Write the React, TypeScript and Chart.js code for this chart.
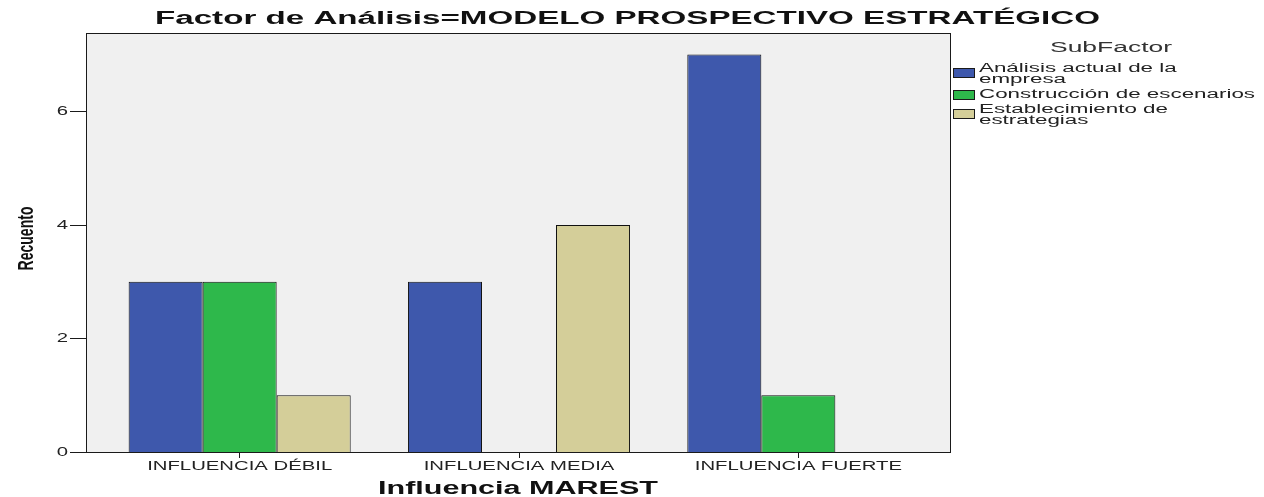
import React, { useEffect, useRef } from "react";
import { Chart, registerables } from "chart.js";

Chart.register(...registerables);

const chartTitle = "Factor de Análisis=MODELO PROSPECTIVO ESTRATÉGICO";
const xAxisTitle = "Influencia MAREST";
const yAxisTitle = "Recuento";
const legendTitle = "SubFactor";
const categories = ["INFLUENCIA DÉBIL", "INFLUENCIA MEDIA", "INFLUENCIA FUERTE"];
const seriesNames = [
  "Análisis actual de la empresa",
  "Construcción de escenarios",
  "Establecimiento de estrategias",
];
const analisisValues = [3, 3, 7];
const construccionValues = [3, 0, 1];
const establecimientoValues = [1, 4, 0];
const seriesColors = ["#3e58ac", "#2eb84b", "#d4ce99"];
const yTickValues = [0, 2, 4, 6];
const yMax = 7.38;

const FONT = "'Liberation Sans', Arial, sans-serif";
const NARROW = "'Liberation Sans Narrow', 'Liberation Sans', Arial, sans-serif";
// the drawn frame extends beyond the category range on both sides
const FRAME_PAD_LEFT = 14;
const FRAME_PAD_RIGHT = 12;

function drawStretched(
  ctx: CanvasRenderingContext2D,
  text: string,
  x: number,
  y: number,
  font: string,
  color: string,
  sx: number,
  align: "left" | "center" | "right"
) {
  ctx.save();
  ctx.font = font;
  ctx.fillStyle = color;
  ctx.textBaseline = "middle";
  ctx.textAlign = "left";
  const w = ctx.measureText(text).width * sx;
  const left = align === "left" ? x : align === "center" ? x - w / 2 : x - w;
  ctx.translate(left, y);
  ctx.scale(sx, 1);
  ctx.fillText(text, 0, 0);
  ctx.restore();
}

function factorFor(ctx: CanvasRenderingContext2D, text: string, font: string, target: number) {
  ctx.save();
  ctx.font = font;
  const w = ctx.measureText(text).width;
  ctx.restore();
  return target / w;
}

function wrapWords(ctx: CanvasRenderingContext2D, text: string, font: string, sx: number, maxW: number) {
  ctx.save();
  ctx.font = font;
  const words = text.split(" ");
  const lines: string[] = [];
  let cur = "";
  for (const w of words) {
    const t = cur ? cur + " " + w : w;
    if (ctx.measureText(t).width * sx > maxW && cur) {
      lines.push(cur);
      cur = w;
    } else cur = t;
  }
  if (cur) lines.push(cur);
  ctx.restore();
  return lines;
}

const decorPlugin = {
  id: "decor",
  beforeDraw(chart: any) {
    const { ctx, chartArea: a, width, height } = chart;
    ctx.save();
    ctx.fillStyle = "#ffffff";
    ctx.fillRect(0, 0, width, height);
    ctx.fillStyle = "#f0f0f0";
    ctx.fillRect(a.left - FRAME_PAD_LEFT, a.top, a.right - a.left + FRAME_PAD_LEFT + FRAME_PAD_RIGHT, a.bottom - a.top);
    ctx.restore();
  },
  afterDraw(chart: any) {
    const { ctx, chartArea: a } = chart;
    const fl = Math.round(a.left - FRAME_PAD_LEFT);
    const fr = Math.round(a.right + FRAME_PAD_RIGHT);
    // plot frame
    ctx.save();
    ctx.strokeStyle = "#1a1a1a";
    ctx.lineWidth = 1;
    ctx.strokeRect(fl + 0.5, Math.round(a.top) + 0.5, fr - fl, Math.round(a.bottom - a.top));
    ctx.restore();

    // title
    const titleFont = `bold 18px ${FONT}`;
    const tsx = factorFor(ctx, chartTitle, titleFont, 945);
    drawStretched(ctx, chartTitle, 627.5, 19.5, titleFont, "#111111", tsx, "center");

    // x tick labels
    const tickFont = `12px ${FONT}`;
    const ksx = factorFor(ctx, categories[0], tickFont, 185);
    const xs = chart.scales.x;
    categories.forEach((c, i) => {
      drawStretched(ctx, c, xs.getPixelForTick(i), 466.5, tickFont, "#222222", ksx, "center");
    });

    // y tick marks + labels
    const ys = chart.scales.y;
    ys.ticks.forEach((t: any) => {
      const py = Math.round(ys.getPixelForValue(t.value)) + 0.5;
      ctx.save();
      ctx.strokeStyle = "#1a1a1a";
      ctx.lineWidth = 1;
      ctx.beginPath();
      ctx.moveTo(fl - 16, py);
      ctx.lineTo(fl, py);
      ctx.stroke();
      ctx.restore();
      drawStretched(ctx, String(t.value), fl - 18, py, tickFont, "#222222", ksx, "right");
    });

    // x axis title
    const axFont = `bold 18px ${FONT}`;
    const xsx = factorFor(ctx, xAxisTitle, axFont, 280);
    drawStretched(ctx, xAxisTitle, (fl + fr) / 2, 489, axFont, "#111111", xsx, "center");

    // y axis title (rotated)
    const yFont = `bold 22px ${NARROW}`;
    const ysx = factorFor(ctx, yAxisTitle, yFont, 64);
    ctx.save();
    ctx.translate(27, (a.top + a.bottom) / 2 - 4);
    ctx.rotate(-Math.PI / 2);
    drawStretched(ctx, yAxisTitle, 0, 0, yFont, "#111111", ysx, "center");
    ctx.restore();

    // legend
    const lgTitleFont = `14px ${FONT}`;
    const lsx0 = factorFor(ctx, legendTitle, lgTitleFont, 122);
    drawStretched(ctx, legendTitle, 1111, 48, lgTitleFont, "#333333", lsx0, "center");

    const lgFont = `12px ${FONT}`;
    const lsx = factorFor(ctx, seriesNames[1], lgFont, 276);
    const lineH = 11;
    const itemGap = 4;
    let yCursor = 63.5;
    chart.data.datasets.forEach((ds: any) => {
      const lines = wrapWords(ctx, ds.label, lgFont, lsx, 282);
      const blockH = lines.length * lineH;
      const cy = yCursor + blockH / 2 - (lines.length - 1) * 2;
      const by = Math.round(cy - 5);
      ctx.save();
      ctx.fillStyle = ds.backgroundColor;
      ctx.fillRect(953, by, 22, 10);
      ctx.strokeStyle = "#1a1a1a";
      ctx.lineWidth = 1;
      ctx.strokeRect(953.5, by + 0.5, 21, 9);
      ctx.restore();
      lines.forEach((ln, k) => {
        drawStretched(ctx, ln, 979, yCursor + lineH * k + lineH / 2, lgFont, "#222222", lsx, "left");
      });
      yCursor += blockH + itemGap;
    });
  },
};

export default function App() {
  const canvasRef = useRef<HTMLCanvasElement | null>(null);

  useEffect(() => {
    if (!canvasRef.current) return;
    const values = [analisisValues, construccionValues, establecimientoValues];
    const chart = new Chart(canvasRef.current, {
      type: "bar",
      data: {
        labels: categories,
        datasets: seriesNames.map((name, i) => ({
          label: name,
          data: values[i],
          backgroundColor: seriesColors[i],
          borderColor: "#111111",
          borderWidth: (c: any) => (c.raw === 0 ? 0 : 1),
          barPercentage: 1,
          categoryPercentage: 0.795,
        })),
      },
      options: {
        responsive: false,
        animation: false,
        events: [],
        layout: { padding: { left: 0, top: 33, right: 326, bottom: 0 } },
        plugins: {
          legend: { display: false },
          title: { display: false },
          tooltip: { enabled: false },
        },
        scales: {
          x: {
            offset: true,
            grid: {
              offset: false,
              drawOnChartArea: false,
              drawTicks: true,
              tickLength: 6,
              color: "#1a1a1a",
            },
            border: { display: false },
            ticks: { display: false },
            afterFit: (s: any) => {
              s.height = 45;
            },
          },
          y: {
            min: 0,
            max: yMax,
            grid: {
              display: false,
            },
            border: { display: false },
            ticks: { display: false },
            afterBuildTicks: (s: any) => {
              s.ticks = yTickValues.map((v) => ({ value: v }));
            },
            afterFit: (s: any) => {
              s.width = 100;
            },
          },
        },
      },
      plugins: [decorPlugin],
    });
    return () => chart.destroy();
  }, []);

  return (
    <div style={{ position: "fixed", left: 0, top: 0, width: 1264, height: 497, background: "#fff" }}>
      <canvas ref={canvasRef} width={1264} height={497} style={{ display: "block" }} />
    </div>
  );
}
